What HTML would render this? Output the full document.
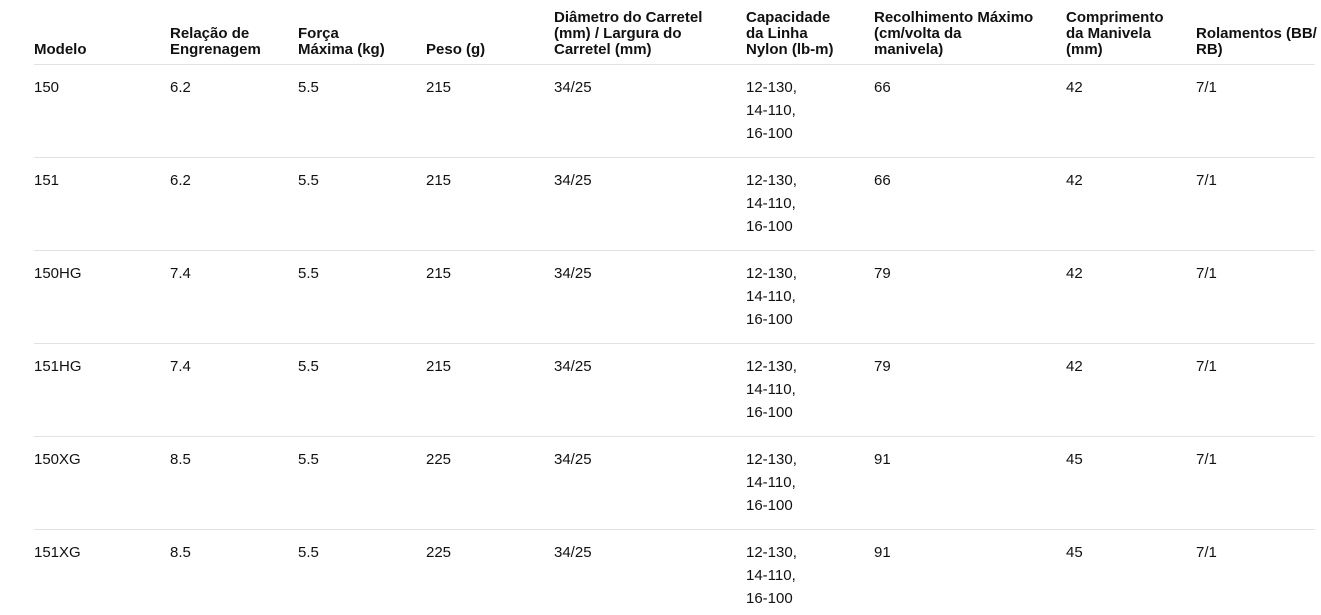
<!DOCTYPE html>
<html><head><meta charset="utf-8"><style>
body{margin:0;width:1321px;height:615px;background:#fff;font-family:"Liberation Sans",sans-serif;color:#111;overflow:hidden;position:relative}
.h{position:absolute;font-weight:bold;font-size:15px;line-height:16px;bottom:557px;white-space:nowrap}
.c{position:absolute;font-size:15px;line-height:23px}
.l{position:absolute;left:34px;width:1281px;height:1px;background:#e2e2e2}
</style></head><body>
<div class="h" style="left:34px">Modelo</div>
<div class="h" style="left:170px">Relação de<br>Engrenagem</div>
<div class="h" style="left:298px">Força<br>Máxima (kg)</div>
<div class="h" style="left:426px">Peso (g)</div>
<div class="h" style="left:554px">Diâmetro do Carretel<br>(mm) / Largura do<br>Carretel (mm)</div>
<div class="h" style="left:746px">Capacidade<br>da Linha<br>Nylon (lb-m)</div>
<div class="h" style="left:874px">Recolhimento Máximo<br>(cm/volta da<br>manivela)</div>
<div class="h" style="left:1066px">Comprimento<br>da Manivela<br>(mm)</div>
<div class="h" style="left:1196px">Rolamentos (BB/<br>RB)</div>
<div class="l" style="top:64px"></div>
<div id="rows"></div>
<script>
var d=[["150","6.2","5.5","215","66","42"],["151","6.2","5.5","215","66","42"],["150HG","7.4","5.5","215","79","42"],["151HG","7.4","5.5","215","79","42"],["150XG","8.5","5.5","225","91","45"],["151XG","8.5","5.5","225","91","45"]];
var xs=[34,170,298,426,554,746,874,1066,1196],h="";
d.forEach(function(r,i){var t=76+i*93;
var v=[r[0],r[1],r[2],r[3],"34/25","12-130,<br>14-110,<br>16-100",r[4],r[5],"7/1"];
v.forEach(function(s,j){h+='<div class="c" style="left:'+xs[j]+'px;top:'+t+'px">'+s+'</div>';});
if(i<5)h+='<div class="l" style="top:'+(157+i*93)+'px"></div>';});
document.getElementById("rows").innerHTML=h;
</script>
</body></html>
